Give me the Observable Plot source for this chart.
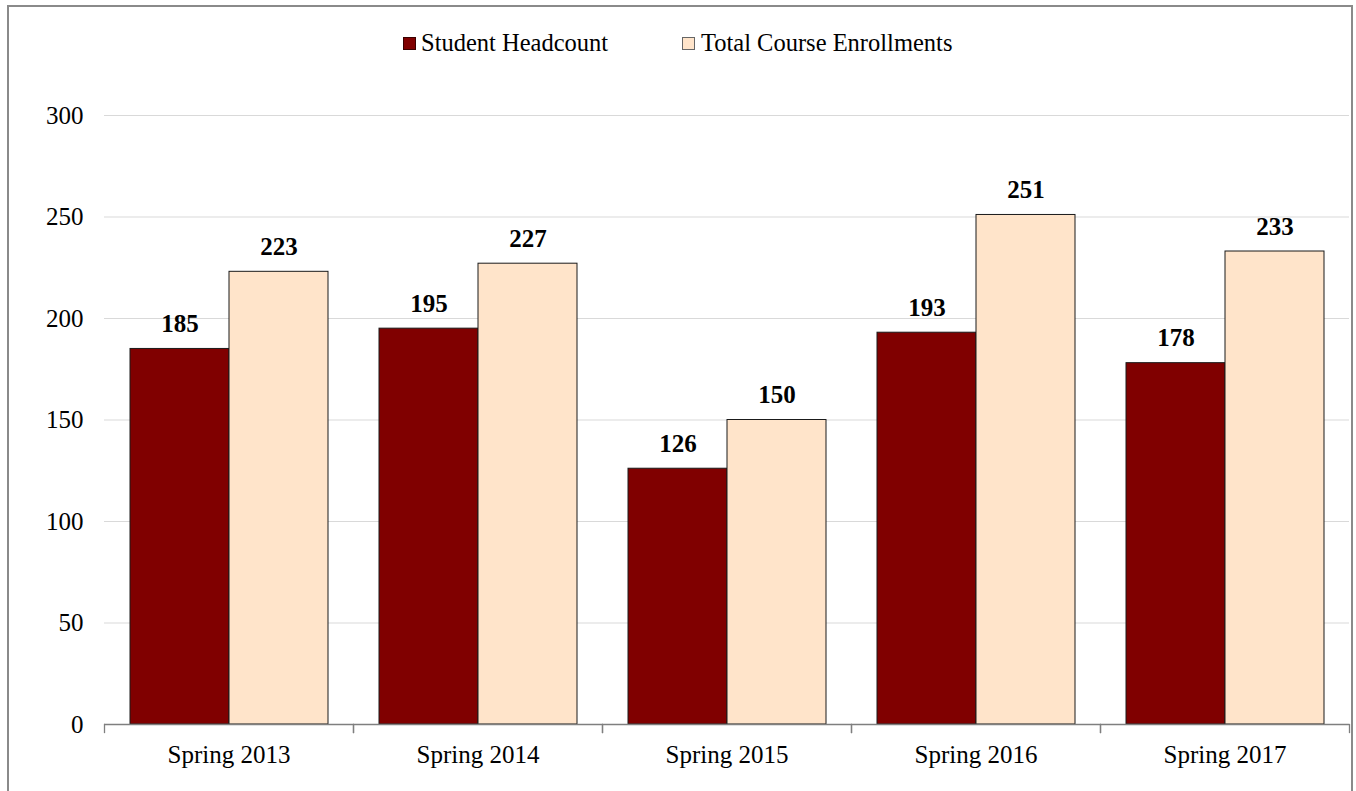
<!DOCTYPE html>
<html>
<head>
<meta charset="utf-8">
<script src="https://cdn.jsdelivr.net/npm/d3@7"></script>
<script src="https://cdn.jsdelivr.net/npm/@observablehq/plot@0.6"></script>
<style>
  html, body { margin: 0; padding: 0; background: #fff; }
  #wrap { position: relative; width: 1356px; height: 791px; overflow: hidden; font-family: "Liberation Serif", "Times New Roman", serif; }
  #border { position: absolute; left: 7px; top: 5px; width: 1346px; height: 820px; border: 2px solid #8a8a8a; box-sizing: border-box; }
  #legend { position: relative; height: 70px; font-size: 24.5px; color: #000; }
  .item { position: absolute; top: 28px; height: 30px; display: flex; align-items: center; white-space: nowrap; }
  .sw { width: 13px; height: 13px; box-sizing: border-box; }
  .tx { position: absolute; top: 1px; }
  #chart { position: relative; }
</style>
</head>
<body>
<div id="wrap">
  <div id="border"></div>
  <div id="legend"></div>
  <div id="chart"></div>
</div>
<script>
const periods = ["Spring 2013", "Spring 2014", "Spring 2015", "Spring 2016", "Spring 2017"];
const seriesNames = ["Student Headcount", "Total Course Enrollments"];
const headcount = [185, 195, 126, 193, 178];
const enrollments = [223, 227, 150, 251, 233];
const yTicks = [0, 50, 100, 150, 200, 250, 300];
const colors = ["#800000", "#ffe4ca"];
const legendLefts = [403, 682];
const legendTextGap = [18, 19];

const data = [];
periods.forEach((p, i) => {
  data.push({period: p, series: seriesNames[0], value: headcount[i]});
  data.push({period: p, series: seriesNames[1], value: enrollments[i]});
});

// Legend (HTML, above the SVG)
const legend = document.getElementById("legend");
seriesNames.forEach((s, i) => {
  const it = document.createElement("div");
  it.className = "item";
  it.style.left = legendLefts[i] + "px";
  const sw = document.createElement("span");
  sw.className = "sw";
  sw.style.background = colors[i];
  sw.style.border = "1px solid " + (i === 0 ? "#3a0000" : "#666");
  const tx = document.createElement("span");
  tx.style.marginLeft = (legendTextGap[i] - 13) + "px";
  tx.textContent = s;
  it.appendChild(sw);
  it.appendChild(tx);
  legend.appendChild(it);
});

const H = 721, mTop = 45, mBottom = 67;
const plotH = H - mTop - mBottom;

const chart = Plot.plot({
  width: 1356,
  height: H,
  marginTop: mTop,
  marginBottom: mBottom,
  marginLeft: 103,
  marginRight: 6,
  style: {fontFamily: "'Liberation Serif', 'Times New Roman', serif", background: "transparent", color: "#000"},
  fx: {domain: periods, padding: 0, label: null},
  x: {domain: seriesNames, paddingInner: 0, paddingOuter: 0.25, axis: null},
  y: {domain: [0, 300], label: null},
  color: {domain: seriesNames, range: colors},
  marks: [
    Plot.gridY(yTicks.filter(d => d > 0), {stroke: "#d9d9d9", strokeOpacity: 1, strokeWidth: 1}),
    Plot.axisY(yTicks, {tickSize: 0, tickPadding: 21, fontSize: 25, label: null}),
    Plot.axisFx({anchor: "bottom", tickSize: 0, tickPadding: 21, fontSize: 25, label: null}),
    Plot.barY(data, {fx: "period", x: "series", y: "value", fill: "series", stroke: "#1a1a1a", strokeWidth: 1}),
    Plot.ruleY([0], {stroke: "#7f7f7f", strokeWidth: 1.3}),
    Plot.frame({anchor: "left", insetTop: plotH, insetBottom: -8, stroke: "#7f7f7f", strokeWidth: 1.3}),
    Plot.frame({anchor: "right", insetTop: plotH, insetBottom: -8, stroke: "#7f7f7f", strokeWidth: 1.3}),
    Plot.text(data, {fx: "period", x: "series", y: "value", text: d => String(d.value), lineAnchor: "bottom", dy: -17, fontSize: 25, fontWeight: "bold", fill: "#000"})
  ]
});
document.getElementById("chart").appendChild(chart);
</script>
</body>
</html>
